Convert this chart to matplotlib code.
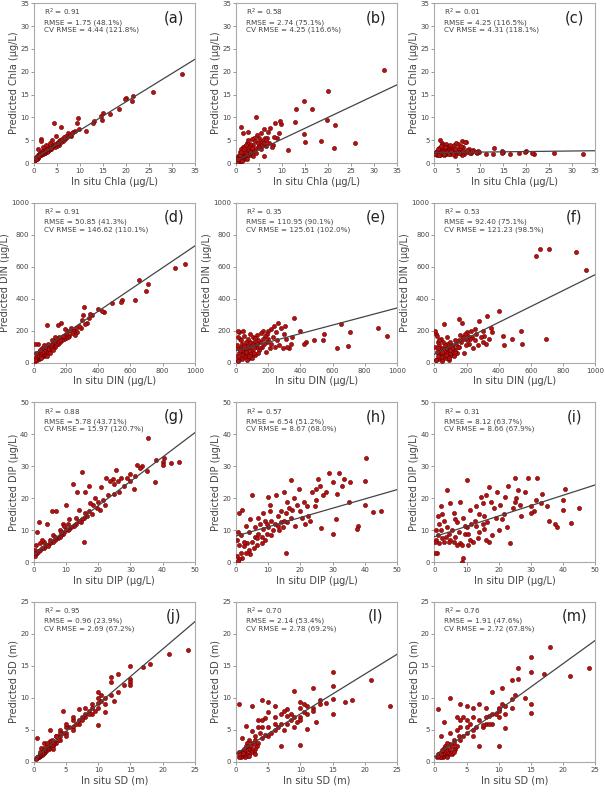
import matplotlib
matplotlib.use("Agg")
import matplotlib.pyplot as plt

# observed values shared by the three models of each variable
chla_obs = [32.3, 26.0, 21.6, 21.3, 20.0, 19.8, 18.5, 16.5, 15.0, 14.8, 14.7, 13.0, 12.8, 11.3, 9.8, 9.5, 9.3, 9.0, 8.5, 8.0,
            7.5, 7.2, 7.0, 6.8, 6.5, 6.3, 6.0, 6.0, 5.8, 5.5, 5.5, 5.2, 5.0, 5.0, 4.8, 4.5, 4.3, 4.2, 4.0, 4.0,
            3.8, 3.5, 3.5, 3.2, 3.0, 3.0, 2.8, 2.8, 2.5, 2.5, 2.3, 2.2, 2.0, 2.0, 2.0, 1.8, 1.8, 1.6, 1.5, 1.5,
            1.4, 1.3, 1.2, 1.2, 1.0, 1.0, 1.0, 0.9, 0.8, 0.8, 0.7, 0.6, 0.5, 0.5, 0.4, 0.3, 0.3, 0.2, 1.6, 2.6,
            0.5, 0.8, 1.1, 1.4, 1.7, 2.1, 2.4, 2.7, 3.1, 3.4, 3.7, 4.1, 4.4, 4.7, 5.3, 5.7, 6.2, 6.6, 7.8, 8.2]
chla_a = [19.4, 15.5, 14.8, 13.5, 14.2, 14.0, 11.8, 10.7, 11.0, 9.5, 10.3, 9.2, 8.8, 7.0, 7.5, 9.8, 8.8, 7.0, 6.8, 6.0,
          6.5, 5.8, 6.0, 5.2, 5.5, 4.8, 8.0, 5.0, 4.6, 4.8, 4.0, 4.2, 4.5, 3.8, 6.0, 3.6, 8.8, 3.8, 3.5, 5.0,
          3.2, 3.0, 4.5, 2.8, 2.6, 3.5, 2.5, 3.8, 2.3, 3.2, 2.2, 2.8, 2.0, 2.5, 3.6, 1.9, 2.6, 2.0, 1.8, 5.2,
          1.7, 2.3, 1.5, 2.0, 1.4, 1.8, 3.0, 1.3, 1.2, 1.6, 1.1, 1.0, 0.9, 1.3, 0.8, 0.7, 1.0, 0.6, 4.8, 4.0,
          1.0, 1.5, 1.6, 1.9, 2.2, 2.4, 2.7, 2.9, 3.0, 3.4, 3.3, 3.9, 4.0, 4.2, 4.4, 5.0, 5.2, 5.8, 6.2, 6.5]
chla_b = [20.3, 4.5, 8.3, 3.4, 15.7, 9.5, 4.8, 11.9, 4.7, 13.7, 6.3, 11.8, 9.0, 2.8, 8.5, 9.3, 6.7, 5.5, 8.7, 4.0,
          7.7, 4.4, 6.8, 5.6, 3.8, 5.5, 7.5, 1.6, 5.0, 6.5, 3.0, 4.6, 5.4, 4.0, 3.6, 6.2, 10.0, 3.2, 5.5, 2.6,
          4.0, 2.5, 5.2, 3.0, 1.8, 4.2, 3.5, 2.2, 1.5, 4.5, 3.0, 2.0, 1.2, 2.8, 3.8, 1.0, 2.4, 0.8, 1.6, 3.5,
          0.6, 2.0, 1.2, 7.8, 0.5, 1.8, 3.2, 0.9, 0.4, 2.5, 1.0, 0.3, 0.6, 1.5, 0.2, 0.5, 1.2, 0.3, 6.5, 6.8,
          1.0, 1.8, 2.5, 0.5, 3.0, 4.0, 1.0, 5.0, 2.5, 3.4, 1.5, 4.8, 2.2, 4.4, 3.8, 4.0, 4.5, 5.0, 3.5, 5.8]
chla_c = [1.9, 2.3, 2.1, 2.2, 2.6, 2.4, 2.2, 2.1, 2.5, 2.7, 2.3, 3.3, 2.1, 2.0, 2.4, 2.6, 2.2, 2.5, 2.8, 2.3,
          3.0, 2.4, 2.8, 4.6, 2.0, 3.6, 4.8, 1.8, 2.6, 2.2, 3.4, 4.2, 3.0, 2.2, 2.6, 1.6, 4.0, 2.8, 3.2, 2.4,
          2.5, 3.5, 2.0, 2.8, 3.8, 2.2, 2.6, 3.2, 4.2, 2.0, 2.8, 3.6, 2.4, 1.8, 3.0, 2.2, 2.6, 4.4, 2.0, 3.0,
          2.4, 1.8, 2.8, 5.0, 2.2, 2.0, 3.4, 2.6, 1.9, 2.4, 2.1, 2.0, 2.3, 1.8, 2.2, 1.9, 2.5, 2.0, 4.0, 3.6,
          2.6, 3.0, 1.8, 3.8, 2.4, 2.0, 3.6, 2.4, 2.0, 4.0, 2.6, 2.0, 3.2, 4.4, 2.2, 3.8, 2.6, 4.6, 2.2, 2.6]

din_obs = [940, 880, 710, 695, 655, 630, 545, 540, 485, 435, 425, 400, 360, 350, 340, 330, 320, 310, 305, 300,
           290, 280, 270, 260, 255, 250, 240, 235, 230, 220, 215, 210, 200, 200, 195, 190, 185, 180, 175, 170,
           165, 160, 155, 150, 150,
           145, 140, 135, 130, 125, 120, 115, 110, 105, 100, 100, 95, 90, 90, 85, 80, 80, 75, 70, 70,
           65, 60, 60, 55, 50, 50, 45, 40, 40, 35, 30, 30, 25, 20, 20, 15, 10, 10, 5, 5,
           130, 110, 90, 70, 50, 30, 15, 60, 40, 25, 120, 80, 45, 10, 100]
din_d = [615, 590, 495, 450, 515, 395, 392, 380, 375, 320, 325, 335, 300, 305, 280, 250, 240, 350, 300, 270,
         215, 230, 190, 220, 175, 200, 200, 185, 215, 170, 200, 160, 180, 155, 210, 150, 165, 170, 140, 250,
         130, 145, 160, 120, 235,
         125, 110, 150, 100, 130, 95, 120, 90, 110, 80, 100, 75, 95, 70, 85, 60, 235, 70, 55, 80,
         60, 45, 75, 50, 40, 65, 45, 35, 55, 30, 25, 45, 30, 20, 40, 25, 15, 30, 10, 20,
         160, 140, 120, 100, 90, 70, 60, 110, 80, 115, 80, 45, 30, 120, 60]
din_e = [170, 215, 195, 105, 245, 90, 180, 145, 140, 130, 118, 200, 280, 160, 120, 95, 100, 150, 230, 180,
         90, 215, 110, 250, 140, 190, 100, 230, 160, 120, 210, 95, 150, 200, 130, 180, 70, 165, 120, 150,
         200, 100, 185, 130, 90,
         80, 140, 60, 175, 100, 50, 130, 90, 160, 70, 115, 40, 130, 85, 55, 100, 30, 150, 60, 110,
         75, 45, 130, 90, 35, 170, 60, 80, 120, 50, 100, 30, 150, 60, 190, 90, 20, 200, 40, 110,
         120, 60, 180, 20, 105, 140, 10, 65, 25, 80, 155, 45, 200, 160, 30]
din_f = [580, 695, 710, 150, 710, 665, 115, 200, 150, 110, 165, 325, 190, 215, 150, 290, 120, 170, 130, 200,
         160, 260, 110, 180, 140, 210, 90, 160, 200, 150, 120, 165, 190, 140, 110, 180, 60, 150, 160, 250,
         130, 175, 100, 140, 275,
         100, 60, 120, 80, 140, 50, 90, 110, 70, 40, 130, 60, 100, 20, 80, 50, 120, 30, 95, 60,
         110, 40, 75, 130, 20, 90, 55, 150, 35, 85, 60, 110, 25, 130, 45, 70, 180, 20, 100, 200,
         60, 90, 30, 50, 10, 140, 170, 240, 65, 95, 40, 160, 70, 15, 80]

dip_obs = [45.0, 42.5, 40.5, 40.0, 40.0, 38.0, 37.5, 35.5, 35.0, 33.5, 33.0, 32.0, 31.5, 31.0, 30.0, 30.0, 29.0, 28.0, 27.0, 26.5,
           26.0, 25.5, 25.0, 25.0, 24.5,
           23.5, 23.0, 22.5, 22.0, 21.5, 21.0, 20.5, 20.0, 19.5, 19.0, 18.5, 18.0, 17.5, 17.0, 17.0, 16.5, 16.0, 16.0, 15.5, 15.5,
           15.0, 15.0, 14.5, 14.0, 14.0, 13.5, 13.0, 13.0, 12.5, 12.0,
           11.5, 11.0, 11.0, 10.5, 10.0, 10.0, 9.5, 9.0, 9.0, 8.5, 8.0, 8.0, 7.5, 7.0, 7.0, 6.5, 6.0, 6.0, 5.5, 5.0,
           5.0, 4.5, 4.0, 4.0, 3.5, 3.0, 3.0, 2.5, 2.0, 2.0, 1.5, 1.5, 1.0, 1.0, 0.8, 0.5, 0.5, 0.3, 0.2, 10.5,
           9.5, 8.5, 6.5, 4.5, 2.5]
dip_g = [31.2, 31.0, 32.5, 31.5, 30.5, 32.0, 25.0, 39.0, 28.5, 30.0, 29.5, 30.3, 27.0, 23.0, 27.5, 25.5, 26.5, 24.0, 26.5, 22.0,
         25.5, 29.0, 24.5, 21.5, 26.0,
         25.5, 21.0, 26.5, 18.0, 19.5, 23.5, 16.5, 19.0, 17.0, 20.0, 18.0, 15.0, 18.5, 24.0, 16.0, 14.5, 22.0, 15.5, 6.5, 14.0,
         28.3, 13.5, 12.5, 16.5, 13.0, 22.0, 12.0, 14.0, 11.5, 24.5,
         11.0, 10.5, 13.5, 10.0, 10.5, 17.8, 9.5, 9.0, 12.0, 8.5, 8.0, 10.0, 7.5, 7.5, 16.0, 7.0, 6.5, 8.5, 16.0, 6.0,
         7.0, 5.5, 5.5, 12.0, 5.0, 4.5, 6.5, 4.5, 4.0, 6.0, 3.5, 12.5, 3.0, 9.5, 5.5, 2.5, 4.0, 2.0, 3.0, 12.0,
         11.5, 9.5, 8.0, 5.0, 7.0]
dip_h = [16.0, 15.8, 32.5, 25.3, 18.0, 11.5, 10.5, 25.0, 18.8, 26.0, 24.0, 28.0, 21.5, 13.5, 25.0, 9.0, 28.0, 22.0, 21.0, 10.8,
         24.0, 26.0, 19.5, 23.0, 17.5,
         22.0, 13.0, 14.5, 17.5, 12.0, 19.0, 14.0, 16.0, 23.0, 18.0, 11.5, 20.0, 16.5, 25.7, 14.0, 17.0, 12.5, 19.0, 3.0, 15.5,
         13.0, 22.0, 11.0, 16.0, 12.5, 10.0, 14.5, 11.5, 21.0, 12.0,
         10.0, 13.0, 8.5, 16.0, 11.0, 20.5, 9.0, 7.0, 13.0, 15.5, 8.0, 6.0, 12.0, 9.0, 14.0, 5.5, 8.0, 11.0, 4.5, 21.0,
         6.5, 13.5, 4.0, 9.5, 6.0, 3.0, 11.5, 5.0, 1.5, 16.5, 3.0, 8.5, 1.0, 15.5, 5.5, 0.5, 9.5, 2.0, 7.0, 18.0,
         12.0, 10.5, 7.5, 2.5, 6.5]
dip_i = [17.0, 12.3, 23.0, 19.5, 16.5, 11.0, 12.0, 13.0, 17.5, 21.5, 18.5, 26.5, 19.5, 16.0, 17.5, 15.5, 26.5, 22.0, 14.5, 18.0,
         22.5, 20.0, 26.5, 19.0, 17.0,
         6.0, 24.0, 11.0, 20.5, 15.0, 13.5, 18.0, 10.0, 22.0, 14.0, 17.0, 8.5, 19.0, 23.5, 6.5, 12.5, 21.0, 7.0, 14.5, 10.5,
         18.5, 12.0, 20.5, 9.5, 15.0, 7.5, 17.5, 11.5, 13.0, 6.5,
         12.0, 7.0, 16.5, 5.5, 11.0, 25.8, 9.0, 1.5, 14.0, 0.0, 6.0, 19.0, 9.5, 5.5, 12.5, 8.0, 6.5, 15.5, 10.0, 7.0,
         18.5, 6.5, 11.0, 22.5, 8.0, 6.5, 13.0, 7.5, 10.0, 17.5, 6.0, 12.0, 8.5, 14.5, 3.0, 7.0, 10.0, 2.8, 6.5, 9.0,
         11.5, 5.5, 13.5, 9.0, 15.0]

sd_obs = [24.0, 21.0, 18.0, 17.0, 15.0, 15.0, 15.0, 15.0, 14.0, 13.0, 13.0, 12.5, 12.0, 12.0, 12.0, 11.0, 11.0, 11.0, 10.5, 10.5,
          10.0, 10.0, 10.0, 10.0, 10.0,
          9.0, 9.0, 9.0, 8.5, 8.0, 8.0, 8.0, 7.5, 7.0, 7.0, 7.0, 6.5, 6.0, 6.0, 6.0, 6.0, 5.5, 5.0, 5.0, 5.0,
          5.0, 4.5, 4.5, 4.0, 4.0, 4.0, 4.0, 9.5, 8.5, 7.5,
          3.8, 3.5, 3.5, 3.2, 3.0, 3.0, 3.0, 2.8, 2.5, 2.5, 2.5, 2.3, 2.2, 2.0, 2.0, 2.0, 1.8, 1.8, 1.7, 1.5,
          1.5, 1.5, 1.4, 1.3, 1.2, 1.2, 1.0, 1.0, 1.0, 0.9, 0.8, 0.8, 0.7, 0.6, 0.5, 0.5, 0.4, 0.5, 2.5, 3.5,
          1.5, 2.8, 1.1, 2.0, 3.0]
sd_j = [17.5, 16.9, 15.3, 14.8, 15.0, 13.0, 12.5, 12.0, 12.0, 13.8, 11.0, 9.5, 13.2, 12.5, 10.5, 7.8, 10.0, 9.0, 10.5, 9.5,
        5.7, 10.0, 9.2, 8.5, 11.0,
        8.5, 9.0, 7.5, 8.0, 7.0, 8.5, 7.5, 7.0, 6.5, 8.3, 6.0, 6.0, 5.5, 6.5, 5.0, 7.0, 5.5, 4.5, 5.5, 6.0,
        4.0, 4.5, 7.9, 4.0, 5.0, 3.5, 4.5, 8.0, 7.5, 6.5,
        3.5, 3.0, 4.0, 3.0, 2.5, 3.2, 2.8, 2.5, 2.2, 2.8, 3.2, 2.0, 2.4, 1.8, 2.2, 2.6, 1.6, 2.0, 1.7, 1.4,
        1.8, 2.2, 1.3, 1.5, 1.1, 1.4, 1.0, 1.2, 1.6, 0.9, 0.8, 1.0, 0.8, 0.7, 0.6, 0.8, 0.5, 3.7, 5.0, 4.0,
        3.0, 3.5, 2.2, 3.0, 2.0]
sd_l = [8.7, 12.8, 9.7, 9.4, 14.0, 11.9, 9.8, 7.5, 9.2, 9.7, 9.0, 6.2, 11.6, 8.5, 8.0, 5.1, 7.5, 8.8, 9.0, 7.8,
        2.6, 9.3, 7.0, 8.4, 6.5,
        11.1, 7.0, 5.5, 6.5, 8.2, 6.0, 7.2, 5.0, 2.5, 7.5, 6.0, 5.5, 8.7, 7.0, 5.0, 6.0, 4.5, 9.3, 7.8, 5.5,
        4.0, 6.8, 4.2, 9.6, 5.5, 3.8, 6.5, 6.2, 7.5, 8.0,
        4.5, 3.0, 5.5, 2.5, 3.5, 2.0, 4.0, 1.5, 3.0, 2.0, 4.8, 1.5, 2.5, 1.2, 2.0, 3.5, 1.0, 2.0, 3.0, 1.2,
        1.8, 2.5, 0.8, 1.5, 1.2, 2.0, 0.9, 1.5, 3.8, 1.0, 0.8, 1.6, 1.2, 1.0, 9.0, 1.5, 0.8, 1.2, 8.8, 6.5,
        5.6, 2.8, 1.4, 1.0, 1.2]
sd_m = [14.7, 13.5, 18.0, 13.8, 16.4, 14.1, 9.0, 7.7, 10.0, 14.7, 12.9, 10.5, 12.8, 9.8, 8.5, 5.3, 8.7, 7.5, 11.6, 9.0,
        2.5, 8.2, 8.0, 7.0, 8.5,
        10.9, 7.5, 6.0, 7.2, 8.5, 6.0, 7.0, 5.5, 2.5, 9.0, 6.5, 5.5, 8.5, 7.0, 5.0, 4.0, 6.0, 8.8, 6.5, 5.5,
        4.5, 7.0, 4.0, 9.0, 6.5, 3.5, 5.5, 7.5, 6.0, 5.8,
        4.0, 2.5, 5.0, 2.0, 3.5, 1.8, 3.0, 1.2, 2.8, 1.5, 4.5, 1.2, 2.0, 1.0, 1.6, 3.0, 0.9, 1.8, 2.5, 1.0,
        1.5, 2.2, 0.8, 1.3, 1.0, 1.8, 0.8, 1.2, 4.0, 0.9, 0.7, 1.4, 1.1, 0.9, 8.3, 1.3, 0.7, 1.0, 10.0, 7.0,
        6.2, 2.5, 1.2, 0.8, 1.5]

# regression lines: (intercept, slope)
fit_lines = [(1.0, 0.62), (0.5, 0.475), (2.3, 0.012),
             (50, 0.68), (75, 0.267), (53, 0.498),
             (2.5, 0.76), (8.2, 0.29), (8.0, 0.324),
             (0.5, 0.856), (1.3, 0.62), (0.8, 0.728)]

stats = [("0.91", "1.75 (48.1%)", "4.44 (121.8%)"),
         ("0.58", "2.74 (75.1%)", "4.25 (116.6%)"),
         ("0.01", "4.25 (116.5%)", "4.31 (118.1%)"),
         ("0.91", "50.85 (41.3%)", "146.62 (110.1%)"),
         ("0.35", "110.95 (90.1%)", "125.61 (102.0%)"),
         ("0.53", "92.40 (75.1%)", "121.23 (98.5%)"),
         ("0.88", "5.78 (43.71%)", "15.97 (120.7%)"),
         ("0.57", "6.54 (51.2%)", "8.67 (68.0%)"),
         ("0.31", "8.12 (63.7%)", "8.66 (67.9%)"),
         ("0.95", "0.96 (23.9%)", "2.69 (67.2%)"),
         ("0.70", "2.14 (53.4%)", "2.78 (69.2%)"),
         ("0.76", "1.91 (47.6%)", "2.72 (67.8%)")]

panel_labels = ["(a)", "(b)", "(c)", "(d)", "(e)", "(f)", "(g)", "(h)", "(i)", "(j)", "(l)", "(m)"]

rows = [
    (chla_obs, [chla_a, chla_b, chla_c], 35, 5, "Chla (\u03bcg/L)"),
    (din_obs, [din_d, din_e, din_f], 1000, 200, "DIN (\u03bcg/L)"),
    (dip_obs, [dip_g, dip_h, dip_i], 50, 10, "DIP (\u03bcg/L)"),
    (sd_obs, [sd_j, sd_l, sd_m], 25, 5, "SD (m)"),
]

fig = plt.figure(figsize=(6.05, 7.92), dpi=100)
lefts = [0.056, 0.390, 0.718]
bottoms = [0.794, 0.542, 0.290, 0.038]
w, h = 0.266, 0.202
gray = "#888888"
txt = "#444444"

k = 0
for r, (obs, preds, vmax, step, name) in enumerate(rows):
    for c in range(3):
        ax = fig.add_axes([lefts[c], bottoms[r], w, h])
        ax.scatter(obs, preds[c], s=9, c="#b31212", edgecolors="#6e0000",
                   linewidths=0.4, zorder=3)
        b0, b1 = fit_lines[k]
        ax.plot([0, vmax], [b0, b0 + b1 * vmax], color="#444444", lw=0.9, zorder=4)
        ax.set_xlim(0, vmax)
        ax.set_ylim(0, vmax)
        ticks = list(range(0, vmax + 1, step))
        ax.set_xticks(ticks)
        ax.set_yticks(ticks)
        ax.tick_params(labelsize=5, length=2, width=0.6, colors=gray,
                       labelcolor=txt, pad=1.5)
        for sp in ax.spines.values():
            sp.set_color("#aaaaaa")
            sp.set_linewidth(0.8)
        ax.set_xlabel("In situ " + name, fontsize=7, color=txt, labelpad=2)
        ax.set_ylabel("Predicted " + name, fontsize=7, color=txt, labelpad=1)
        r2, rmse, cv = stats[k]
        ax.text(0.06, 0.975, "R$^2$ = " + r2 + "\nRMSE = " + rmse + "\nCV RMSE = " + cv,
                transform=ax.transAxes, fontsize=5.2, color=txt, va="top", ha="left",
                linespacing=1.15)
        ax.text(0.87, 0.91, panel_labels[k], transform=ax.transAxes, fontsize=10.5,
                color="#222222", ha="center", va="center")
        k += 1

fig.savefig("out.png", dpi=100)
